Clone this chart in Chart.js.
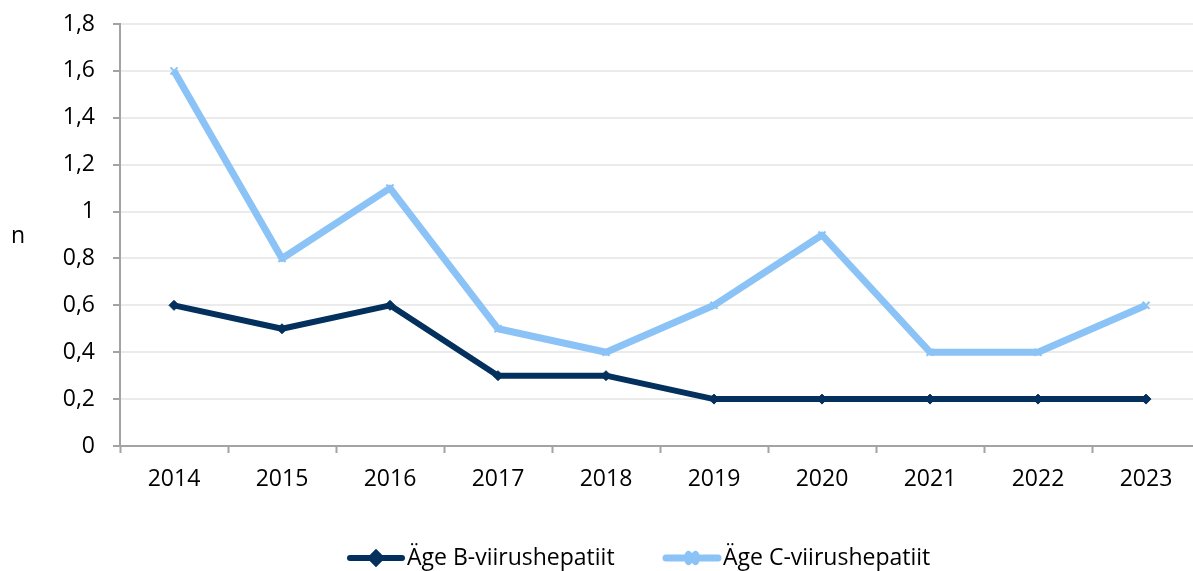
<!DOCTYPE html>
<html>
<head>
<meta charset="utf-8">
<script src="https://cdn.jsdelivr.net/npm/chart.js@4/dist/chart.umd.min.js"></script>
<style>
  body { margin: 0; background: #fff; overflow: hidden; }
  #wrap { width: 1200px; height: 571px; }
</style>
</head>
<body>
<div id="wrap"><canvas id="chart" width="1200" height="571"></canvas></div>
<script>
// data
const years = ['2014', '2015', '2016', '2017', '2018', '2019', '2020', '2021', '2022', '2023'];
const hepB = [0.6, 0.5, 0.6, 0.3, 0.3, 0.2, 0.2, 0.2, 0.2, 0.2];
const hepC = [1.6, 0.8, 1.1, 0.5, 0.4, 0.6, 0.9, 0.4, 0.4, 0.6];
const labelB = 'Äge B-viirushepatiit';
const labelC = 'Äge C-viirushepatiit';
const yTitle = 'n';

const navy = '#04305d';
const sky = '#8cc3f6';
const axisGray = '#a3a3a3';
const font = '"Open Sans", sans-serif';
const fontSize = 23;

// legend + the horizontal "n" title, drawn on the canvas
const extras = {
    id: 'extras',
    afterDraw(chart) {
        const ctx = chart.ctx;
        ctx.save();
        ctx.font = fontSize + 'px ' + font;
        ctx.fillStyle = '#000';
        ctx.textBaseline = 'middle';
        ctx.textAlign = 'center';
        ctx.fillText(yTitle, 18, 236);

        ctx.textAlign = 'left';
        const items = [
            { x: 347, ds: chart.data.datasets[0] },
            { x: 663, ds: chart.data.datasets[1] }
        ];
        const y = 558;
        items.forEach(it => {
            ctx.strokeStyle = it.ds.borderColor;
            ctx.fillStyle = it.ds.borderColor;
            ctx.lineWidth = it.ds.borderWidth;
            ctx.lineCap = 'round';
            ctx.beginPath();
            ctx.moveTo(it.x + 3, y);
            ctx.lineTo(it.x + 55, y);
            ctx.stroke();
            Chart.helpers.drawPoint(ctx, {
                pointStyle: it.ds.pointStyle,
                radius: it.ds.pointRadius,
                borderWidth: it.ds.pointBorderWidth
            }, it.x + 29, y);
            ctx.fillStyle = '#000';
            ctx.fillText(it.ds.label, it.x + 60, y);
        });
        ctx.restore();
    }
};

new Chart(document.getElementById('chart'), {
    type: 'line',
    data: {
        labels: years,
        datasets: [
            {
                label: labelB,
                data: hepB,
                borderColor: navy,
                backgroundColor: navy,
                borderWidth: 6,
                pointStyle: 'rectRot',
                pointRadius: 5,
                pointBorderWidth: 1,
                pointBackgroundColor: navy,
                pointBorderColor: navy,
                tension: 0,
                borderJoinStyle: 'round'
            },
            {
                label: labelC,
                data: hepC,
                borderColor: sky,
                backgroundColor: sky,
                borderWidth: 7,
                pointStyle: 'crossRot',
                pointRadius: 5,
                pointBorderWidth: 2,
                pointBackgroundColor: sky,
                pointBorderColor: sky,
                tension: 0,
                borderJoinStyle: 'round'
            }
        ]
    },
    options: {
        responsive: false,
        animation: false,
        layout: { autoPadding: false, padding: { top: 24, left: 0, right: 0, bottom: 0 } },
        plugins: {
            legend: { display: false },
            tooltip: { enabled: false }
        },
        scales: {
            x: {
                offset: true,
                afterFit: s => { s.height = 125; },
                grid: {
                    offset: true,
                    drawOnChartArea: false,
                    drawTicks: true,
                    tickLength: 7,
                    tickColor: axisGray,
                    tickWidth: 2
                },
                border: { color: axisGray, width: 2 },
                ticks: { color: '#000', font: { family: font, size: fontSize }, padding: 13, maxRotation: 0 }
            },
            y: {
                min: 0,
                max: 1.8,
                afterFit: s => { s.width = 120; s.paddingTop = 0; s.paddingBottom = 0; },
                grid: {
                    color: '#ebebeb',
                    lineWidth: 2,
                    tickLength: 7,
                    tickColor: axisGray,
                    tickWidth: 2
                },
                border: { color: axisGray, width: 2 },
                ticks: {
                    stepSize: 0.2,
                    color: '#000',
                    padding: 18,
                    font: { family: font, size: fontSize },
                    callback: v => String(Math.round(v * 10) / 10).replace('.', ',')
                }
            }
        }
    },
    plugins: [extras]
});
</script>
</body>
</html>
